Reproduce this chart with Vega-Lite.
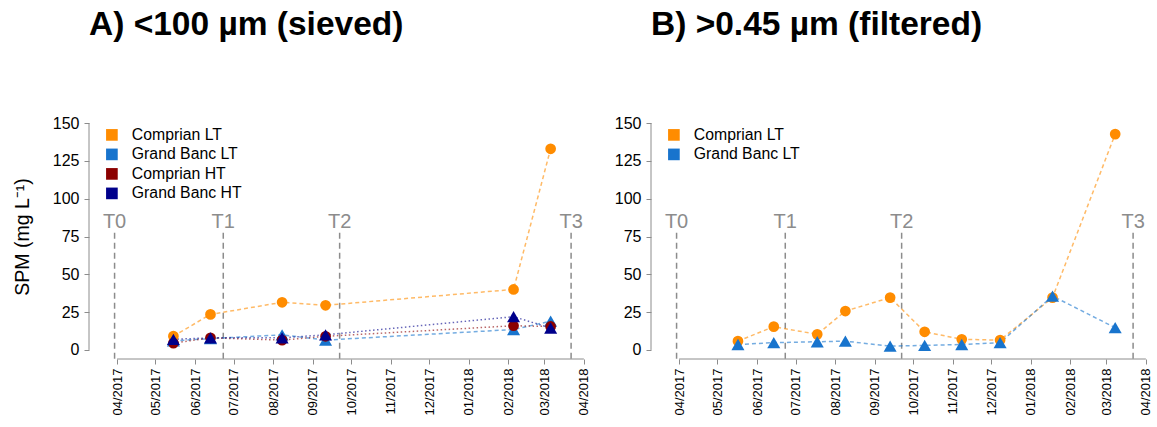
{
  "$schema": "https://vega.github.io/schema/vega-lite/v6.json",
  "background": "white",
  "padding": {"left": 12, "top": 7, "right": 5, "bottom": 5},
  "spacing": 23,
  "config": {
    "font": "Liberation Sans",
    "view": {"stroke": null},
    "axis": {"grid": false, "domain": false, "labelColor": "black", "tickColor": "#8c8c8c", "labelFont": "Liberation Sans", "titleFont": "Liberation Sans"}
  },
  "datasets": {
    "a": [
      {"series": "Comprian LT", "site": "Comprian", "date": "2017-05-15", "spm": 9.1},
      {"series": "Comprian LT", "site": "Comprian", "date": "2017-06-13", "spm": 23.5},
      {"series": "Comprian LT", "site": "Comprian", "date": "2017-08-08", "spm": 31.5},
      {"series": "Comprian LT", "site": "Comprian", "date": "2017-09-11", "spm": 29.5},
      {"series": "Comprian LT", "site": "Comprian", "date": "2018-02-05", "spm": 40},
      {"series": "Comprian LT", "site": "Comprian", "date": "2018-03-06", "spm": 133},
      {"series": "Grand Banc LT", "site": "Grand Banc", "date": "2017-05-15", "spm": 6},
      {"series": "Grand Banc LT", "site": "Grand Banc", "date": "2017-06-13", "spm": 7.5},
      {"series": "Grand Banc LT", "site": "Grand Banc", "date": "2017-08-08", "spm": 10},
      {"series": "Grand Banc LT", "site": "Grand Banc", "date": "2017-09-11", "spm": 6.5},
      {"series": "Grand Banc LT", "site": "Grand Banc", "date": "2018-02-05", "spm": 13.5},
      {"series": "Grand Banc LT", "site": "Grand Banc", "date": "2018-03-06", "spm": 19},
      {"series": "Comprian HT", "site": "Comprian", "date": "2017-05-15", "spm": 4.5},
      {"series": "Comprian HT", "site": "Comprian", "date": "2017-06-13", "spm": 8},
      {"series": "Comprian HT", "site": "Comprian", "date": "2017-08-08", "spm": 6.5},
      {"series": "Comprian HT", "site": "Comprian", "date": "2017-09-11", "spm": 9},
      {"series": "Comprian HT", "site": "Comprian", "date": "2018-02-05", "spm": 16},
      {"series": "Comprian HT", "site": "Comprian", "date": "2018-03-06", "spm": 15.5},
      {"series": "Grand Banc HT", "site": "Grand Banc", "date": "2017-05-15", "spm": 7},
      {"series": "Grand Banc HT", "site": "Grand Banc", "date": "2017-06-13", "spm": 8},
      {"series": "Grand Banc HT", "site": "Grand Banc", "date": "2017-08-08", "spm": 8},
      {"series": "Grand Banc HT", "site": "Grand Banc", "date": "2017-09-11", "spm": 10},
      {"series": "Grand Banc HT", "site": "Grand Banc", "date": "2018-02-05", "spm": 22},
      {"series": "Grand Banc HT", "site": "Grand Banc", "date": "2018-03-06", "spm": 14.5}
    ],
    "b": [
      {"series": "Comprian LT", "site": "Comprian", "date": "2017-05-17", "spm": 5.8},
      {"series": "Comprian LT", "site": "Comprian", "date": "2017-06-14", "spm": 15.4},
      {"series": "Comprian LT", "site": "Comprian", "date": "2017-07-18", "spm": 10.3},
      {"series": "Comprian LT", "site": "Comprian", "date": "2017-08-09", "spm": 25.7},
      {"series": "Comprian LT", "site": "Comprian", "date": "2017-09-13", "spm": 34.6},
      {"series": "Comprian LT", "site": "Comprian", "date": "2017-10-10", "spm": 12},
      {"series": "Comprian LT", "site": "Comprian", "date": "2017-11-08", "spm": 7},
      {"series": "Comprian LT", "site": "Comprian", "date": "2017-12-08", "spm": 6.5},
      {"series": "Comprian LT", "site": "Comprian", "date": "2018-01-18", "spm": 34.6},
      {"series": "Comprian LT", "site": "Comprian", "date": "2018-03-08", "spm": 142.7},
      {"series": "Grand Banc LT", "site": "Grand Banc", "date": "2017-05-17", "spm": 3.6},
      {"series": "Grand Banc LT", "site": "Grand Banc", "date": "2017-06-14", "spm": 4.8},
      {"series": "Grand Banc LT", "site": "Grand Banc", "date": "2017-07-18", "spm": 5.4},
      {"series": "Grand Banc LT", "site": "Grand Banc", "date": "2017-08-09", "spm": 5.8},
      {"series": "Grand Banc LT", "site": "Grand Banc", "date": "2017-09-13", "spm": 2.5},
      {"series": "Grand Banc LT", "site": "Grand Banc", "date": "2017-10-10", "spm": 3},
      {"series": "Grand Banc LT", "site": "Grand Banc", "date": "2017-11-08", "spm": 3.6},
      {"series": "Grand Banc LT", "site": "Grand Banc", "date": "2017-12-08", "spm": 4.8},
      {"series": "Grand Banc LT", "site": "Grand Banc", "date": "2018-01-18", "spm": 35.6},
      {"series": "Grand Banc LT", "site": "Grand Banc", "date": "2018-03-08", "spm": 14.7}
    ],
    "tlines": [
      {"T": "T0", "date": "2017-03-30"},
      {"T": "T1", "date": "2017-06-23"},
      {"T": "T2", "date": "2017-09-22"},
      {"T": "T3", "date": "2018-03-22"}
    ]
  },
  "hconcat": [
    {
      "width": 500,
      "height": 245,
      "title": {"text": "A) <100 µm (sieved)", "anchor": "start", "frame": "group", "fontSize": 33.5, "fontWeight": "bold", "color": "black", "baseline": "alphabetic", "offset": 46, "font": "Liberation Sans"},
      "layer": [
        {
          "data": {"name": "tlines"},
          "mark": {"type": "rule", "color": "#8c8c8c", "strokeDash": [6, 4], "strokeWidth": 1.5},
          "encoding": {
            "x": {"field": "date", "type": "temporal",
              "scale": {"type": "utc", "domain": [{"year": 2017, "month": 3, "date": 10, "utc": true}, {"year": 2018, "month": 4, "date": 5, "utc": true}]},
              "axis": {"title": null, "labelExpr": "utcFormat(datum.value, '%m/%Y')", "labelAngle": 270, "labelFontSize": 13, "tickSize": 5, "labelPadding": 4,
                "values": [
                  {"year": 2017, "month": 4, "date": 1, "utc": true}, {"year": 2017, "month": 5, "date": 1, "utc": true}, {"year": 2017, "month": 6, "date": 1, "utc": true},
                  {"year": 2017, "month": 7, "date": 1, "utc": true}, {"year": 2017, "month": 8, "date": 1, "utc": true}, {"year": 2017, "month": 9, "date": 1, "utc": true},
                  {"year": 2017, "month": 10, "date": 1, "utc": true}, {"year": 2017, "month": 11, "date": 1, "utc": true}, {"year": 2017, "month": 12, "date": 1, "utc": true},
                  {"year": 2018, "month": 1, "date": 1, "utc": true}, {"year": 2018, "month": 2, "date": 1, "utc": true}, {"year": 2018, "month": 3, "date": 1, "utc": true},
                  {"year": 2018, "month": 4, "date": 1, "utc": true}]}},
            "y": {"datum": 77.5, "type": "quantitative",
              "scale": {"domain": [-6, 156], "nice": false, "zero": false},
              "axis": {"title": "SPM (mg L⁻¹)", "titleFontSize": 19.5, "titleFontWeight": "normal", "titleColor": "black", "titlePadding": 20,
                "values": [0, 25, 50, 75, 100, 125, 150], "labelFontSize": 16, "tickSize": 5, "labelPadding": 5}},
            "y2": {"datum": -6}
          }
        },
        {
          "data": {"name": "tlines"},
          "mark": {"type": "text", "color": "#8c8c8c", "fontSize": 20, "baseline": "alphabetic", "align": "center"},
          "encoding": {
            "x": {"field": "date", "type": "temporal"},
            "y": {"datum": 80.5, "type": "quantitative"},
            "text": {"field": "T"}
          }
        },
        {
          "data": {"values": [{}]},
          "mark": {"type": "rule", "color": "#8c8c8c", "strokeWidth": 1},
          "encoding": {
            "x": {"datum": {"year": 2017, "month": 4, "date": 1, "utc": true}, "type": "temporal"},
            "x2": {"datum": {"year": 2018, "month": 4, "date": 1, "utc": true}},
            "y": {"datum": -6, "type": "quantitative"}
          }
        },
        {
          "data": {"values": [{}]},
          "mark": {"type": "rule", "color": "#8c8c8c", "strokeWidth": 1},
          "encoding": {
            "x": {"datum": {"year": 2017, "month": 3, "date": 10, "utc": true}, "type": "temporal"},
            "y": {"datum": 0, "type": "quantitative"},
            "y2": {"datum": 150}
          }
        },
        {
          "data": {"name": "a"},
          "mark": {"type": "line", "strokeWidth": 1.5, "strokeOpacity": 0.6, "strokeCap": "butt"},
          "encoding": {
            "x": {"field": "date", "type": "temporal"},
            "y": {"field": "spm", "type": "quantitative"},
            "color": {"field": "series", "type": "nominal",
              "scale": {"domain": ["Comprian LT", "Grand Banc LT", "Comprian HT", "Grand Banc HT"], "range": ["#FF8C00", "#1874CD", "#8B0000", "#00008B"]},
              "legend": {"orient": "none", "legendX": 15, "legendY": 13, "title": null, "symbolType": "square", "symbolSize": 136, "symbolStrokeWidth": 0,
                "labelFontSize": 15.8, "labelColor": "black", "labelOffset": 12, "rowPadding": 2.5, "labelFont": "Liberation Sans"}},
            "strokeDash": {"field": "series", "type": "nominal", "legend": null,
              "scale": {"domain": ["Comprian LT", "Grand Banc LT", "Comprian HT", "Grand Banc HT"], "range": [[4, 3], [4, 3], [1.5, 2.5], [1.5, 2.5]]}}
          }
        },
        {
          "data": {"name": "a"},
          "mark": {"type": "point", "filled": true, "opacity": 1, "strokeWidth": 0},
          "encoding": {
            "x": {"field": "date", "type": "temporal"},
            "y": {"field": "spm", "type": "quantitative"},
            "color": {"field": "series", "type": "nominal",
              "scale": {"domain": ["Comprian LT", "Grand Banc LT", "Comprian HT", "Grand Banc HT"], "range": ["#FF8C00", "#1874CD", "#8B0000", "#00008B"]},
              "legend": {"orient": "none", "legendX": 15, "legendY": 13, "title": null, "symbolType": "square", "symbolSize": 136, "symbolStrokeWidth": 0,
                "labelFontSize": 15.8, "labelColor": "black", "labelOffset": 12, "rowPadding": 2.5, "labelFont": "Liberation Sans"}},
            "shape": {"field": "site", "type": "nominal", "legend": null, "scale": {"domain": ["Comprian", "Grand Banc"], "range": ["circle", "triangle-up"]}},
            "size": {"field": "site", "type": "nominal", "legend": null, "scale": {"domain": ["Comprian", "Grand Banc"], "range": [115, 170]}}
          }
        }
      ]
    },
    {
      "width": 500,
      "height": 245,
      "title": {"text": "B) >0.45 µm (filtered)", "anchor": "start", "frame": "group", "fontSize": 33.5, "fontWeight": "bold", "color": "black", "baseline": "alphabetic", "offset": 46, "font": "Liberation Sans"},
      "layer": [
        {
          "data": {"name": "tlines"},
          "mark": {"type": "rule", "color": "#8c8c8c", "strokeDash": [6, 4], "strokeWidth": 1.5},
          "encoding": {
            "x": {"field": "date", "type": "temporal",
              "scale": {"type": "utc", "domain": [{"year": 2017, "month": 3, "date": 10, "utc": true}, {"year": 2018, "month": 4, "date": 5, "utc": true}]},
              "axis": {"title": null, "labelExpr": "utcFormat(datum.value, '%m/%Y')", "labelAngle": 270, "labelFontSize": 13, "tickSize": 5, "labelPadding": 4,
                "values": [
                  {"year": 2017, "month": 4, "date": 1, "utc": true}, {"year": 2017, "month": 5, "date": 1, "utc": true}, {"year": 2017, "month": 6, "date": 1, "utc": true},
                  {"year": 2017, "month": 7, "date": 1, "utc": true}, {"year": 2017, "month": 8, "date": 1, "utc": true}, {"year": 2017, "month": 9, "date": 1, "utc": true},
                  {"year": 2017, "month": 10, "date": 1, "utc": true}, {"year": 2017, "month": 11, "date": 1, "utc": true}, {"year": 2017, "month": 12, "date": 1, "utc": true},
                  {"year": 2018, "month": 1, "date": 1, "utc": true}, {"year": 2018, "month": 2, "date": 1, "utc": true}, {"year": 2018, "month": 3, "date": 1, "utc": true},
                  {"year": 2018, "month": 4, "date": 1, "utc": true}]}},
            "y": {"datum": 77.5, "type": "quantitative",
              "scale": {"domain": [-6, 156], "nice": false, "zero": false},
              "axis": {"title": null, "values": [0, 25, 50, 75, 100, 125, 150], "labelFontSize": 16, "tickSize": 5, "labelPadding": 5}},
            "y2": {"datum": -6}
          }
        },
        {
          "data": {"name": "tlines"},
          "mark": {"type": "text", "color": "#8c8c8c", "fontSize": 20, "baseline": "alphabetic", "align": "center"},
          "encoding": {
            "x": {"field": "date", "type": "temporal"},
            "y": {"datum": 80.5, "type": "quantitative"},
            "text": {"field": "T"}
          }
        },
        {
          "data": {"values": [{}]},
          "mark": {"type": "rule", "color": "#8c8c8c", "strokeWidth": 1},
          "encoding": {
            "x": {"datum": {"year": 2017, "month": 4, "date": 1, "utc": true}, "type": "temporal"},
            "x2": {"datum": {"year": 2018, "month": 4, "date": 1, "utc": true}},
            "y": {"datum": -6, "type": "quantitative"}
          }
        },
        {
          "data": {"values": [{}]},
          "mark": {"type": "rule", "color": "#8c8c8c", "strokeWidth": 1},
          "encoding": {
            "x": {"datum": {"year": 2017, "month": 3, "date": 10, "utc": true}, "type": "temporal"},
            "y": {"datum": 0, "type": "quantitative"},
            "y2": {"datum": 150}
          }
        },
        {
          "data": {"name": "b"},
          "mark": {"type": "line", "strokeWidth": 1.5, "strokeOpacity": 0.6, "strokeCap": "butt"},
          "encoding": {
            "x": {"field": "date", "type": "temporal"},
            "y": {"field": "spm", "type": "quantitative"},
            "color": {"field": "series", "type": "nominal",
              "scale": {"domain": ["Comprian LT", "Grand Banc LT"], "range": ["#FF8C00", "#1874CD"]},
              "legend": {"orient": "none", "legendX": 15, "legendY": 13, "title": null, "symbolType": "square", "symbolSize": 136, "symbolStrokeWidth": 0,
                "labelFontSize": 15.8, "labelColor": "black", "labelOffset": 12, "rowPadding": 2.5, "labelFont": "Liberation Sans"}},
            "strokeDash": {"field": "series", "type": "nominal", "legend": null,
              "scale": {"domain": ["Comprian LT", "Grand Banc LT"], "range": [[4, 3], [4, 3]]}}
          }
        },
        {
          "data": {"name": "b"},
          "mark": {"type": "point", "filled": true, "opacity": 1, "strokeWidth": 0},
          "encoding": {
            "x": {"field": "date", "type": "temporal"},
            "y": {"field": "spm", "type": "quantitative"},
            "color": {"field": "series", "type": "nominal",
              "scale": {"domain": ["Comprian LT", "Grand Banc LT"], "range": ["#FF8C00", "#1874CD"]},
              "legend": {"orient": "none", "legendX": 15, "legendY": 13, "title": null, "symbolType": "square", "symbolSize": 136, "symbolStrokeWidth": 0,
                "labelFontSize": 15.8, "labelColor": "black", "labelOffset": 12, "rowPadding": 2.5, "labelFont": "Liberation Sans"}},
            "shape": {"field": "site", "type": "nominal", "legend": null, "scale": {"domain": ["Comprian", "Grand Banc"], "range": ["circle", "triangle-up"]}},
            "size": {"field": "site", "type": "nominal", "legend": null, "scale": {"domain": ["Comprian", "Grand Banc"], "range": [115, 170]}}
          }
        }
      ]
    }
  ],
  "resolve": {
    "scale": {"color": "independent", "strokeDash": "independent", "shape": "independent", "size": "independent", "x": "independent", "y": "independent"},
    "legend": {"color": "independent"}
  }
}
